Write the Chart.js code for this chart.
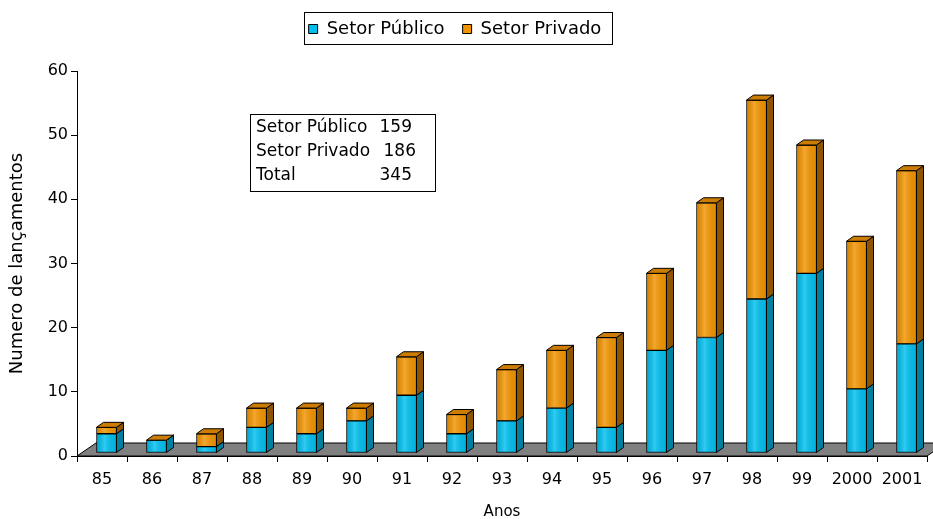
<!DOCTYPE html>
<html lang="pt">
<head>
<meta charset="UTF-8">
<title>Numero de lançamentos</title>
<script src="https://cdn.jsdelivr.net/npm/chart.js"></script>
<style>
  html, body { margin: 0; padding: 0; background: #fff; }
  #caixa { width: 933px; height: 519px; }
</style>
</head>
<body>
<div id="caixa"><canvas id="grafico"></canvas></div>
<script>
// dados
const anos = ['85', '86', '87', '88', '89', '90', '91', '92', '93', '94', '95', '96', '97', '98', '99', '2000', '2001'];
const setorPublico = [3, 2, 1, 4, 3, 5, 9, 3, 5, 7, 4, 16, 18, 24, 28, 10, 17];
const setorPrivado = [1, 0, 2, 3, 4, 2, 6, 3, 8, 9, 14, 12, 21, 31, 20, 23, 27];
const ticksY = [0, 10, 20, 30, 40, 50, 60];
const resumoNomes = ['Setor Público', 'Setor Privado', 'Total'];
const resumoValores = [159, 186, 345];

const familia = "'DejaVu Sans', sans-serif";
Chart.defaults.font.family = familia;
Chart.defaults.font.size = 16;
Chart.defaults.color = '#000';

// profundidade das barras
const dx = 7, dy = 5;
const desloc = { x: 4.5, y: -3 };

const efeito3D = {
    id: 'efeito3D',
    afterInit(chart) {
        const fitOrig = chart.legend.fit;
        chart.legend.fit = function () {
            fitOrig.call(this);
            this.height = 69;
        };
    },
    afterLayout(chart) {
        chart.legend.left -= 8.5;
        chart.legend.right -= 8.5;
    },
    beforeDatasetsDraw(chart) {
        const { ctx, chartArea: a } = chart;
        ctx.save();
        ctx.fillStyle = '#808080';
        ctx.strokeStyle = '#000';
        ctx.lineWidth = 1;
        ctx.beginPath();
        ctx.moveTo(a.left, a.bottom);
        ctx.lineTo(a.right, a.bottom);
        ctx.lineTo(a.right + 19, a.bottom - 13);
        ctx.lineTo(a.left + 19, a.bottom - 13);
        ctx.closePath();
        ctx.fill();
        ctx.stroke();
        ctx.restore();
        ctx.save();
        ctx.translate(desloc.x, desloc.y);
    },
    afterDatasetsDraw(chart) {
        const ctx = chart.ctx;
        const n = chart.data.datasets.length;
        ctx.lineWidth = 1;
        ctx.strokeStyle = '#000';
        chart.data.datasets.forEach((ds, i) => {
            chart.getDatasetMeta(i).data.forEach(bar => {
                const { x, y, base, width } = bar.getProps(['x', 'y', 'base', 'width'], true);
                const l = x - width / 2, r = x + width / 2;
                const topo = Math.min(y, base), fundo = Math.max(y, base);
                // brilho na face da frente
                if (fundo - topo > 2) {
                    const g = ctx.createLinearGradient(l, 0, r, 0);
                    g.addColorStop(0, 'rgba(0,0,0,0.12)');
                    g.addColorStop(0.4, 'rgba(255,255,255,0.18)');
                    g.addColorStop(1, 'rgba(0,0,0,0.05)');
                    ctx.fillStyle = g;
                    ctx.fillRect(l + 1, topo + 1, width - 2, fundo - topo - 2);
                }
                // lateral
                ctx.beginPath();
                ctx.moveTo(r, fundo);
                ctx.lineTo(r + dx, fundo - dy);
                ctx.lineTo(r + dx, topo - dy);
                ctx.lineTo(r, topo);
                ctx.closePath();
                ctx.fillStyle = ds.corLateral;
                ctx.fill();
                ctx.stroke();
                // topo da pilha
                if (i === n - 1) {
                    ctx.beginPath();
                    ctx.moveTo(l, topo);
                    ctx.lineTo(l + dx, topo - dy);
                    ctx.lineTo(r + dx, topo - dy);
                    ctx.lineTo(r, topo);
                    ctx.closePath();
                    ctx.fillStyle = ds.corTopo;
                    ctx.fill();
                    ctx.stroke();
                }
            });
        });
        ctx.restore();
    },
    afterDraw(chart) {
        const ctx = chart.ctx;
        const caixas = chart.legend.legendHitBoxes;
        ctx.save();
        ctx.strokeStyle = '#000';
        ctx.lineWidth = 1;
        if (caixas.length) {
            const esq = Math.min(...caixas.map(c => c.left));
            const dir = Math.max(...caixas.map(c => c.left + c.width));
            const cima = Math.min(...caixas.map(c => c.top));
            const baixo = Math.max(...caixas.map(c => c.top + c.height));
            ctx.strokeRect(Math.round(esq - 5) + 0.5, Math.round(cima - 8) + 0.5,
                Math.round(dir - esq + 15), Math.round(baixo - cima + 14));
        }
        // caixa de totais
        ctx.strokeRect(250.5, 114.5, 185, 77);
        ctx.font = '17px ' + familia;
        ctx.fillStyle = '#000';
        ctx.textBaseline = 'middle';
        resumoNomes.forEach((nome, k) => {
            const yy = 128 + k * 24;
            ctx.textAlign = 'left';
            ctx.fillText(nome, 256, yy);
            ctx.textAlign = 'right';
            ctx.fillText(String(resumoValores[k]), k === 1 ? 416 : 412, yy);
        });
        ctx.restore();
    }
};

new Chart(document.getElementById('grafico'), {
    type: 'bar',
    data: {
        labels: anos,
        datasets: [
            {
                label: 'Setor Público',
                data: setorPublico,
                backgroundColor: '#00BFEF',
                borderColor: '#000',
                borderWidth: 1,
                borderSkipped: false,
                corLateral: '#00809F',
                corTopo: '#00A0CC'
            },
            {
                label: 'Setor Privado',
                data: setorPrivado,
                backgroundColor: '#F29400',
                borderColor: '#000',
                borderWidth: 1,
                borderSkipped: false,
                corLateral: '#8E5400',
                corTopo: '#CC7C00'
            }
        ]
    },
    options: {
        responsive: true,
        maintainAspectRatio: false,
        animation: false,
        layout: { padding: { top: 2, right: 6, left: 0, bottom: 0 } },
        datasets: { bar: { barThickness: 20 } },
        scales: {
            x: {
                stacked: true,
                grid: { drawOnChartArea: false, tickLength: 6, color: '#000', offset: true },
                border: { color: '#000' },
                ticks: { padding: 8, color: '#000', maxRotation: 0, autoSkip: false },
                title: { display: true, text: 'Anos', font: { size: 15 }, padding: { top: 0, bottom: -2 } },
                afterFit(s) { s.height = 63; }
            },
            y: {
                stacked: true,
                min: 0,
                max: 60,
                afterBuildTicks(s) { s.ticks = ticksY.map(v => ({ value: v })); },
                grid: { drawOnChartArea: false, tickLength: 6, color: '#000' },
                border: { color: '#000' },
                ticks: { padding: 3, color: '#000' },
                title: { display: true, text: 'Numero de lançamentos', font: { size: 18 }, padding: { top: 7, bottom: 0 } },
                afterFit(s) { s.width = 77; }
            }
        },
        plugins: {
            legend: {
                labels: { boxWidth: 9, boxHeight: 9, padding: 18, color: '#000', font: { size: 18 } }
            },
            tooltip: { enabled: false }
        }
    },
    plugins: [efeito3D]
});
</script>
</body>
</html>
